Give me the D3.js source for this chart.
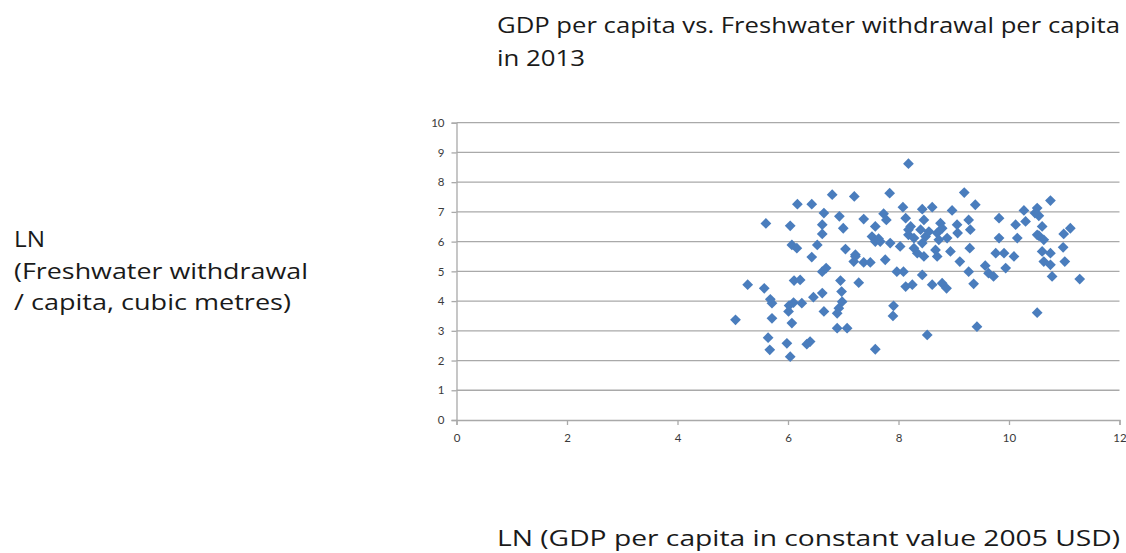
<!DOCTYPE html>
<html>
<head>
<meta charset="utf-8">
<script src="https://cdn.jsdelivr.net/npm/d3@7"></script>
<style>
  html, body { margin: 0; padding: 0; background: #ffffff; }
  svg { display: block; }
</style>
</head>
<body>
<svg id="chart" width="1126" height="553"></svg>
<script>
// ---- Data ----
const titleLines = ["GDP per capita vs. Freshwater withdrawal per capita", "in 2013"];
const yLabelLines = ["LN", "(Freshwater withdrawal", "/ capita, cubic metres)"];
const xLabel = "LN (GDP per capita in constant value 2005 USD)";

const xTicks = [0, 2, 4, 6, 8, 10, 12];
const yTicks = [0, 1, 2, 3, 4, 5, 6, 7, 8, 9, 10];

// LN(GDP per capita)
const gdpLn = [
  6.80, 7.20, 6.17, 6.43, 5.60, 6.04, 6.65, 6.93, 6.62, 6.62,
  7.00, 7.37, 7.58, 7.52, 7.58, 6.07, 6.16, 6.53, 6.43, 7.04,
  7.22, 7.19, 7.37, 7.49, 6.62, 6.69, 6.11, 6.22, 6.95, 7.28,
  5.27, 5.57, 6.97, 5.68, 5.71, 6.10, 6.25, 6.46, 6.62, 6.98,
  6.92, 6.01, 6.65, 5.71, 6.07, 5.05, 6.89, 7.07, 5.64, 5.98,
  6.40, 6.34, 5.67, 6.04, 7.58, 6.02, 6.89,
  8.18, 7.84, 9.19, 9.39, 10.75, 8.08, 8.43, 8.61, 8.97, 7.73,
  7.78, 8.13, 8.46, 8.76, 9.27, 9.82, 10.27, 10.51, 10.54, 8.22,
  8.40, 8.79, 9.06, 9.30, 10.12, 10.30, 10.60, 11.11, 10.99, 7.67,
  7.85, 8.18, 8.28, 8.49, 8.70, 8.88, 9.07, 9.82, 10.15, 10.51,
  10.63, 8.03, 8.28, 8.34, 8.46, 8.70, 8.94, 9.29, 9.76, 9.91,
  10.09, 10.60, 10.75, 10.98, 7.76, 9.11, 9.57, 10.63, 10.75, 11.01,
  7.97, 8.09, 8.43, 9.27, 9.63, 9.72, 9.94, 10.78, 11.28, 8.13,
  8.25, 8.61, 8.79, 8.87, 9.36, 7.91, 7.90, 10.51, 9.42, 8.52,
  8.55, 8.73, 8.18, 8.43, 8.67, 10.54, 10.47, 7.64, 7.22
];
// LN(Freshwater withdrawal per capita)
const waterLn = [
  7.58, 7.52, 7.26, 7.26, 6.61, 6.53, 6.96, 6.85, 6.57, 6.26,
  6.45, 6.76, 6.51, 6.17, 6.00, 5.89, 5.78, 5.89, 5.48, 5.75,
  5.56, 5.33, 5.30, 5.30, 4.99, 5.11, 4.69, 4.71, 4.69, 4.62,
  4.55, 4.43, 4.32, 4.06, 3.93, 3.95, 3.93, 4.13, 4.27, 3.98,
  3.76, 3.65, 3.65, 3.42, 3.26, 3.37, 3.09, 3.09, 2.77, 2.58,
  2.64, 2.55, 2.36, 2.13, 2.38, 3.85, 3.59,
  8.62, 7.63, 7.65, 7.24, 7.38, 7.16, 7.09, 7.16, 7.05, 6.94,
  6.73, 6.79, 6.73, 6.62, 6.73, 6.79, 7.05, 7.13, 6.87, 6.51,
  6.40, 6.45, 6.57, 6.40, 6.57, 6.68, 6.51, 6.45, 6.26, 6.00,
  5.95, 6.23, 6.12, 6.17, 6.29, 6.12, 6.29, 6.12, 6.12, 6.23,
  6.06, 5.84, 5.78, 5.61, 5.50, 5.50, 5.67, 5.78, 5.61, 5.61,
  5.50, 5.67, 5.61, 5.81, 5.39, 5.33, 5.19, 5.33, 5.22, 5.33,
  4.99, 4.99, 4.88, 4.99, 4.94, 4.83, 5.11, 4.83, 4.74, 4.49,
  4.55, 4.55, 4.60, 4.43, 4.58, 3.84, 3.50, 3.61, 3.14, 2.86,
  6.34, 6.06, 6.40, 5.95, 5.72, 6.20, 6.96, 6.10, 5.50
];

// ---- Drawing ----
const svg = d3.select("#chart");
const plot = { left: 456.5, right: 1119.5, top: 122.7, bottom: 420 };

const x = d3.scaleLinear().domain([0, 12]).range([plot.left, plot.right]);
const y = d3.scaleLinear().domain([0, 10]).range([plot.bottom, plot.top]);

const gridColor = "#a9a9a9";
const textColor = "#3a3a3a";
const tickFont = "Lato, 'Open Sans', sans-serif";
const labelFont = "'Open Sans', Lato, sans-serif";

// horizontal gridlines
svg.append("g")
  .selectAll("line")
  .data(yTicks.filter(d => d > 0))
  .join("line")
  .attr("x1", plot.left).attr("x2", plot.right)
  .attr("y1", d => y(d)).attr("y2", d => y(d))
  .attr("stroke", gridColor).attr("stroke-width", 1.3);

// y axis
const yAxis = svg.append("g")
  .attr("transform", `translate(${plot.left},0)`)
  .call(d3.axisLeft(y).tickValues(yTicks).tickSize(5).tickPadding(7).tickFormat(d3.format("d")));
// x axis
const xAxis = svg.append("g")
  .attr("transform", `translate(0,${plot.bottom})`)
  .call(d3.axisBottom(x).tickValues(xTicks).tickSize(5).tickPadding(9).tickFormat(d3.format("d")));

[yAxis, xAxis].forEach(g => {
  g.select(".domain").attr("stroke", gridColor).attr("stroke-width", 1.3);
  g.selectAll(".tick line").attr("stroke", gridColor).attr("stroke-width", 1.3);
  g.selectAll(".tick text")
    .attr("fill", textColor)
    .style("font-family", tickFont)
    .style("font-size", "11.5px");
});

// markers (diamonds)
const diamond = d3.symbol().type(d3.symbolSquare).size(58);
svg.append("g")
  .selectAll("path")
  .data(gdpLn.map((g, i) => [g, waterLn[i]]))
  .join("path")
  .attr("d", diamond)
  .attr("transform", d => `translate(${x(d[0])},${y(d[1])}) rotate(45)`)
  .attr("fill", "#4a7dbd");

// helper: multi-line text with fixed widths
function addLines(lines, x0, y0, dy, size, widths) {
  lines.forEach((line, i) => {
    const t = svg.append("text")
      .attr("x", x0).attr("y", y0 + i * dy)
      .style("font-family", labelFont).style("font-size", size + "px")
      .attr("fill", "#1a1a1a")
      .text(line);
    if (widths && widths[i]) {
      t.attr("textLength", widths[i]).attr("lengthAdjust", "spacingAndGlyphs");
    }
  });
}

// title
addLines(titleLines, 497, 33, 33, 22, [623, 88]);
// y label
addLines(yLabelLines, 14, 247, 31.5, 21, [31, 294, 277]);
// x label
addLines([xLabel], 497, 546, 0, 22, [623]);
</script>
</body>
</html>
